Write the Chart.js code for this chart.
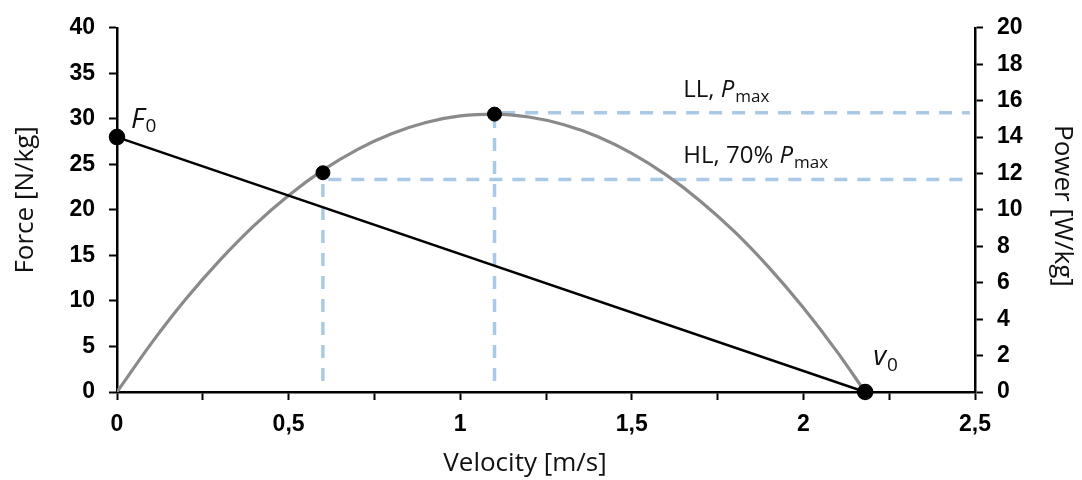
<!DOCTYPE html>
<html>
<head>
<meta charset="utf-8">
<script src="https://cdn.jsdelivr.net/npm/chart.js@4/dist/chart.umd.min.js"></script>
<style>
  html, body { margin: 0; padding: 0; background: #ffffff; }
  #wrap { width: 1082px; height: 480px; position: relative; }
</style>
</head>
<body>
<div id="wrap"><canvas id="c" width="1082" height="480"></canvas></div>
<script>
// ---- data ----
const velocity = [0, 0.1, 0.2, 0.3, 0.4, 0.5, 0.6, 0.7, 0.8, 0.9, 1.0, 1.1, 1.2, 1.3, 1.4, 1.5, 1.6, 1.7, 1.8, 1.9, 2.0, 2.1, 2.18];
const power    = [0, 2.67, 5.09, 7.24, 9.15, 10.79, 12.18, 13.31, 14.18, 14.80, 15.16, 15.26, 15.10, 14.69, 14.03, 13.10, 11.92, 10.48, 8.79, 6.83, 4.62, 2.16, 0];
const forceVelocity = [0, 2.18];
const force         = [28, 0];
const keyVelocity = [0.6, 1.1];
const keyPower    = [12.04, 15.26];
const levelNames  = ['LL', 'HL'];
const levelPower  = [15.34, 11.67];
const levelVelocity = [1.1, 0.6];
const levelLabels = ['LL, ', 'HL, 70% '];
const xTickLabels = ['0', '0,5', '1', '1,5', '2', '2,5'];
const yTicks  = [0, 5, 10, 15, 20, 25, 30, 35, 40];
const y2Ticks = [0, 2, 4, 6, 8, 10, 12, 14, 16, 18, 20];

// ---- styling ----
const TICK_FONT = { family: "'Liberation Sans', Arial, sans-serif", size: 23, weight: 'bold' };
const TEXT_FAMILY = "'Open Sans', 'Noto Sans', sans-serif";
const DASH_COLOR = '#a9c9e7';
const DASH_END_V = 2.485;   // where dashed guides stop (x)
const DASH_BOTTOM_P = 0.6;  // where dashed guides stop (power)

const pts = (xs, ys) => xs.map((x, i) => ({ x: x, y: ys[i] }));

const guideData = levelNames.map((n, i) => [
  { x: levelVelocity[i], y: DASH_BOTTOM_P },
  { x: levelVelocity[i], y: levelPower[i] },
  { x: DASH_END_V, y: levelPower[i] }
]);

const annotations = {
  id: 'annotations',
  afterDatasetsDraw(chart) {
    const ctx = chart.ctx;
    const xs = chart.scales.x, ys = chart.scales.y, y2 = chart.scales.y2;
    ctx.save();
    ctx.fillStyle = '#111';
    ctx.textBaseline = 'alphabetic';
    ctx.textAlign = 'left';
    // F0
    let fx = xs.getPixelForValue(forceVelocity[0]) + 14;
    let fy = ys.getPixelForValue(force[0]) - 9;
    ctx.font = 'italic 28px ' + TEXT_FAMILY;
    ctx.fillText('F', fx, fy);
    let w = ctx.measureText('F').width;
    ctx.font = '19px ' + TEXT_FAMILY;
    ctx.fillText('0', fx + w + 1, fy + 4);
    // v0
    let vx = xs.getPixelForValue(forceVelocity[1]) + 8;
    let vy = ys.getPixelForValue(force[1]) - 27;
    ctx.font = 'italic 28px ' + TEXT_FAMILY;
    ctx.fillText('v', vx, vy);
    w = ctx.measureText('v').width;
    ctx.font = '19px ' + TEXT_FAMILY;
    ctx.fillText('0', vx + w + 1, vy + 6);
    // level labels
    levelLabels.forEach((lab, i) => {
      const lx = xs.getPixelForValue(1.65);
      const ly = y2.getPixelForValue(levelPower[i]) - 16;
      ctx.font = '24px ' + TEXT_FAMILY;
      ctx.fillText(lab, lx, ly);
      let ww = ctx.measureText(lab).width;
      ctx.font = 'italic 24px ' + TEXT_FAMILY;
      ctx.fillText('P', lx + ww, ly);
      ww += ctx.measureText('P').width + 1;
      ctx.font = '17px ' + TEXT_FAMILY;
      ctx.fillText('max', lx + ww, ly + 5);
    });
    // axis titles
    const ca = chart.chartArea;
    ctx.font = '26px ' + TEXT_FAMILY;
    ctx.textAlign = 'center';
    ctx.textBaseline = 'middle';
    ctx.fillText('Velocity [m/s]', (ca.left + ca.right) / 2 - 21, 464);
    ctx.save();
    ctx.translate(26, (ca.top + ca.bottom) / 2 - 10);
    ctx.rotate(-Math.PI / 2);
    ctx.fillText('Force [N/kg]', 0, 0);
    ctx.restore();
    ctx.save();
    ctx.translate(1062, (ca.top + ca.bottom) / 2 - 4);
    ctx.rotate(Math.PI / 2);
    ctx.fillText('Power [W/kg]', 0, 0);
    ctx.restore();
    ctx.restore();
  }
};

const axisGrid = { drawOnChartArea: false, drawTicks: true, tickLength: 8, tickWidth: 2, color: '#000' };
const axisBorder = { display: true, color: '#000', width: 2.5 };

new Chart(document.getElementById('c'), {
  type: 'scatter',
  data: {
    datasets: [
      ...guideData.map((d, i) => ({
        label: levelNames[i] + ' guide',
        data: d,
        yAxisID: 'y2',
        showLine: true,
        borderColor: DASH_COLOR,
        borderWidth: 3.5,
        borderDash: [13, 10],
        pointRadius: 0,
        fill: false,
        order: 5
      })),
      {
        label: 'Power',
        data: pts(velocity, power),
        yAxisID: 'y2',
        showLine: true,
        borderColor: '#8a8a8a',
        borderWidth: 3.2,
        pointRadius: 0,
        cubicInterpolationMode: 'monotone',
        fill: false,
        order: 3
      },
      {
        label: 'Force',
        data: pts(forceVelocity, force),
        yAxisID: 'y',
        showLine: true,
        borderColor: '#000',
        borderWidth: 2.5,
        pointRadius: 7,
        pointBackgroundColor: '#000',
        pointBorderColor: '#000',
        clip: false,
        order: 2
      },
      {
        label: 'Key points',
        data: pts(keyVelocity, keyPower),
        yAxisID: 'y2',
        showLine: false,
        pointRadius: 7,
        pointBackgroundColor: '#000',
        pointBorderColor: '#000',
        clip: false,
        order: 1
      }
    ]
  },
  options: {
    responsive: false,
    animation: false,
    devicePixelRatio: 1,
    layout: { padding: { top: 24, left: 0, right: 0, bottom: 0 } },
    plugins: { legend: { display: false }, tooltip: { enabled: false } },
    scales: {
      x: {
        type: 'linear', min: 0, max: 2.5,
        afterFit(s) { s.height = 88; },
        afterBuildTicks(s) { s.ticks = [0,0.25,0.5,0.75,1,1.25,1.5,1.75,2,2.25,2.5].map(v => ({ value: v })); },
        ticks: {
          autoSkip: false, maxRotation: 0, padding: 11, color: '#000', font: TICK_FONT,
          callback(v) { const k = Math.round(v * 2); return (Math.abs(v * 2 - k) < 1e-9) ? xTickLabels[k] : ''; }
        },
        grid: axisGrid, border: axisBorder
      },
      y: {
        type: 'linear', position: 'left', min: 0, max: 40,
        afterFit(s) { s.width = 117; },
        afterBuildTicks(s) { s.ticks = yTicks.map(v => ({ value: v })); },
        ticks: { padding: 14, color: '#000', font: TICK_FONT },
        grid: axisGrid, border: axisBorder
      },
      y2: {
        type: 'linear', position: 'right', min: 0, max: 20,
        afterFit(s) { s.width = 107; },
        afterBuildTicks(s) { s.ticks = y2Ticks.map(v => ({ value: v })); },
        ticks: { padding: 14, color: '#000', font: TICK_FONT },
        grid: axisGrid, border: axisBorder
      }
    }
  },
  plugins: [annotations]
});
</script>
</body>
</html>
